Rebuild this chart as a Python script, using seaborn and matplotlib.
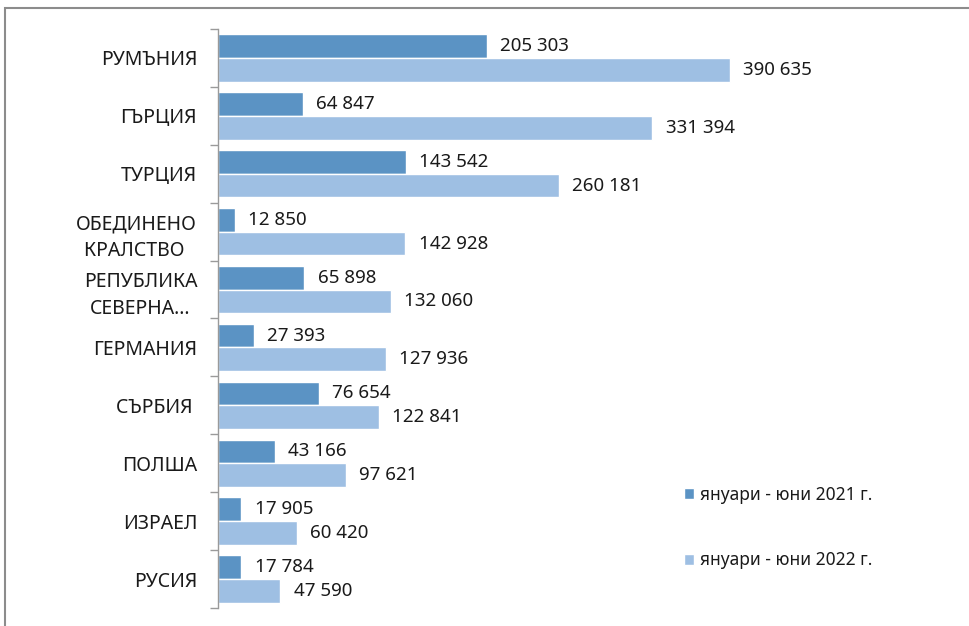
import pandas as pd
import matplotlib
matplotlib.use("Agg")
import matplotlib.pyplot as plt
import matplotlib.patches as mpatches
import seaborn as sns

# Данни, прочетени от графиката
countries = ["РУМЪНИЯ", "ГЪРЦИЯ", "ТУРЦИЯ", "ОБЕДИНЕНО\nКРАЛСТВО ", "РЕПУБЛИКА\nСЕВЕРНА…",
             "ГЕРМАНИЯ", "СЪРБИЯ ", "ПОЛША", "ИЗРАЕЛ", "РУСИЯ"]
values_2021 = [205303, 64847, 143542, 12850, 65898, 27393, 76654, 43166, 17905, 17784]
values_2022 = [390635, 331394, 260181, 142928, 132060, 127936, 122841, 97621, 60420, 47590]
series = ["януари - юни 2021 г.", "януари - юни 2022 г."]
colors = ["#5B93C4", "#9EBFE3"]

df = pd.DataFrame({
    "country": countries * 2,
    "value": values_2021 + values_2022,
    "period": [series[0]] * len(countries) + [series[1]] * len(countries),
})

sns.set_theme(style="white")
plt.rcParams["font.family"] = ["Noto Sans", "DejaVu Sans"]
text_color = "#1a1a1a"

fig = plt.figure(figsize=(9.7, 6.26), dpi=100)
ax = fig.add_axes([218 / 970, 18 / 626, 590 / 970, 579 / 626])

sns.barplot(data=df, y="country", x="value", hue="period", order=countries,
            hue_order=series, palette=colors, orient="h", width=0.82,
            edgecolor="white", linewidth=1, saturation=1, legend=False, ax=ax)

for cont in ax.containers:
    labels = [f"{int(v):,}".replace(",", " ") for v in cont.datavalues]
    ax.bar_label(cont, labels=labels, padding=9.5, fontsize=13.5, color=text_color)

ax.set_xlim(0, 450000)
ax.set_ylim(len(countries) - 0.5, -0.5)
ax.set_xlabel("")
ax.set_ylabel("")
ax.set_xticks([])

# категорийна ос: етикети в центъра, чертички между групите
ax.set_yticks(range(len(countries)))
ax.set_yticklabels(countries, fontsize=14, color=text_color, multialignment="center",
                   linespacing=1.45)
ax.set_yticks([i - 0.5 for i in range(len(countries) + 1)], minor=True)
ax.tick_params(axis="y", which="major", length=0, pad=15)
ax.tick_params(axis="y", which="minor", length=6, width=1, color="#9a9a9a", left=True)

for side in ["top", "right", "bottom"]:
    ax.spines[side].set_visible(False)
ax.spines["left"].set_color("#9a9a9a")
ax.spines["left"].set_linewidth(1)

handles = [mpatches.Patch(facecolor=c, edgecolor="white", label=s) for c, s in zip(colors, series)]
fig.legend(handles=handles, loc="upper left", bbox_to_anchor=(668 / 970, 1 - 470 / 626),
           frameon=False, fontsize=12.5, handlelength=0.6, handleheight=0.6,
           handletextpad=0.35, labelspacing=2.74, labelcolor=text_color)

# рамка около диаграмата
frame = mpatches.Rectangle((5 / 970, -0.1), 1.2, 1 - 7.5 / 626 + 0.1, transform=fig.transFigure,
                           fill=False, edgecolor="#8c8c8c", linewidth=1.5, clip_on=False)
fig.patches.append(frame)

fig.savefig("out.png", dpi=100)
